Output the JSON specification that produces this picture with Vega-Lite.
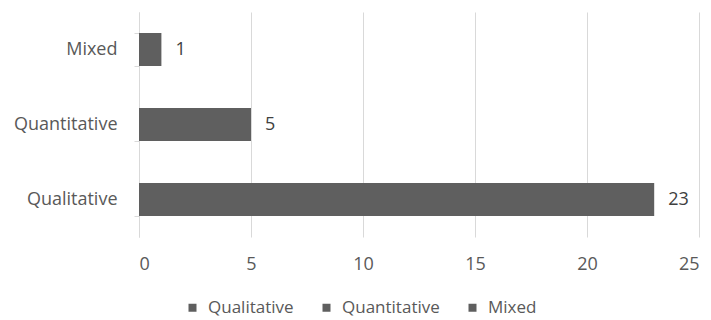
{
  "$schema": "https://vega.github.io/schema/vega-lite/v6.json",
  "autosize": {"type": "none"},
  "padding": {"left": 139, "top": 12, "right": 12, "bottom": 83},
  "width": 560,
  "height": 225,
  "config": {
    "view": {"stroke": null},
    "font": "Open Sans"
  },
  "data": {
    "values": [
      {"type": "Qualitative", "count": 23},
      {"type": "Quantitative", "count": 5},
      {"type": "Mixed", "count": 1}
    ]
  },
  "encoding": {
    "y": {
      "field": "type",
      "type": "nominal",
      "sort": ["Mixed", "Quantitative", "Qualitative"],
      "scale": {"paddingInner": 0.56, "paddingOuter": 0.28},
      "axis": {
        "title": null,
        "tickBand": "extent",
        "domainColor": "#d9d9d9",
        "tickColor": "#d9d9d9",
        "tickSize": 5,
        "labelPadding": 17,
        "labelFontSize": 18,
        "labelColor": "#595959",
        "labelFont": "Open Sans"
      }
    },
    "x": {
      "field": "count",
      "type": "quantitative",
      "scale": {"domain": [0, 25], "nice": false},
      "axis": {
        "title": null,
        "values": [0, 5, 10, 15, 20, 25],
        "domain": false,
        "ticks": false,
        "grid": true,
        "gridColor": "#d9d9d9",
        "gridWidth": 1,
        "labelPadding": 18,
        "labelFontSize": 18,
        "labelColor": "#595959",
        "labelFont": "Open Sans"
      }
    }
  },
  "layer": [
    {
      "mark": {"type": "bar", "color": "#5f5f5f"},
      "encoding": {
        "color": {
          "field": "type",
          "type": "nominal",
          "sort": ["Qualitative", "Quantitative", "Mixed"],
          "scale": {"domain": ["Qualitative", "Quantitative", "Mixed"], "range": ["#5f5f5f", "#5f5f5f", "#5f5f5f"]},
          "legend": {
            "title": null,
            "orient": "none",
            "direction": "horizontal",
            "legendX": 45,
            "legendY": 287,
            "symbolType": "square",
            "symbolSize": 64,
            "labelFontSize": 17,
            "labelColor": "#595959",
            "labelFont": "Open Sans",
            "columnPadding": 24,
            "labelOffset": 7
          }
        }
      }
    },
    {
      "mark": {"type": "text", "align": "left", "dx": 14, "fontSize": 18, "color": "#404040", "font": "Open Sans"},
      "encoding": {"text": {"field": "count", "type": "quantitative"}}
    }
  ]
}
